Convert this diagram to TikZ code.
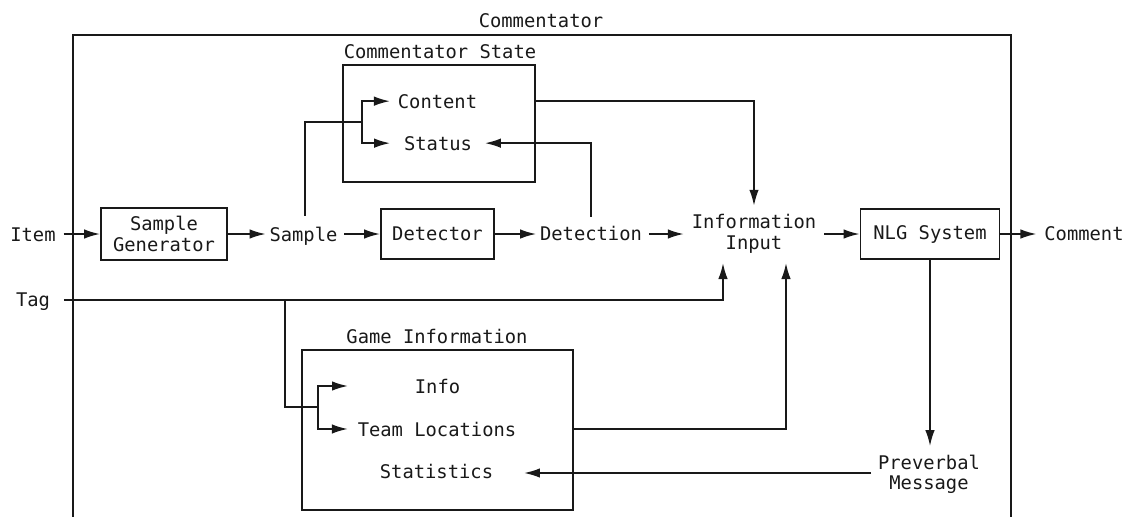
\documentclass[tikz,border=0pt]{standalone}
\usepackage{fontspec}
\setmonofont{DejaVu Sans Mono}
\usetikzlibrary{arrows.meta}
\definecolor{ink}{RGB}{25,25,25}
\begin{document}
\begin{tikzpicture}[x=1pt,y=-1pt,
  every node/.style={font=\ttfamily\fontsize{18.8}{20.5}\selectfont, text=ink},
  line width=1.8pt, draw=ink,
  box/.style={draw=ink, rectangle, inner sep=0pt, align=center, line width=1.8pt},
  txt/.style={inner sep=0pt, anchor=base},
  mtxt/.style={inner sep=0pt, align=center},
  arr/.style={-{Latex[length=16pt,width=9.5pt]}}]
\useasboundingbox (0,0) rectangle (1128,517);

% outer frame
\draw (73,517) -- (73,35) -- (1011,35) -- (1011,517);
\node[txt] (title) at (541,27) {Commentator};

% boxes
\node[box, minimum width=192pt, minimum height=117pt] (cs) at (439,123.5) {};
\node[txt] (cstitle) at (440,58) {Commentator State};
\node[box, minimum width=271pt, minimum height=160pt] (gi) at (437.5,430) {};
\node[txt] (gititle) at (437,343) {Game Information};
\node[box, minimum width=126pt, minimum height=52pt] (sg) at (164,234) {Sample\\Generator};
\node[box, minimum width=113pt, minimum height=50pt] (det) at (437.5,234) {Detector};
\node[box, minimum width=139pt, minimum height=50pt] (nlg) at (930,234) {NLG System};

% texts
\node[txt] (content) at (437.5,108) {Content};
\node[txt] (status) at (438,150) {Status};
\node[txt] (item) at (33,241) {Item};
\node[txt] (sample) at (303.5,241) {Sample};
\node[txt] (detection) at (591,240) {Detection};
\node[mtxt] (infoin) at (754,234) {Information\\Input};
\node[txt] (comment) at (1084,240) {Comment};
\node[txt] (tag) at (33,306) {Tag};
\node[txt] (info) at (437.5,393) {Info};
\node[txt] (team) at (437,436) {Team Locations};
\node[txt] (stats) at (436.5,478) {Statistics};
\node[mtxt] (prev) at (929,474.5) {Preverbal\\Message};

% helper coordinates
\coordinate (csj) at (362,122);
\coordinate (tagin) at (723,263);
\coordinate (teamin) at (786,263);
\coordinate (tagb) at (285,300);
\coordinate (gij) at (318,407);
\coordinate (infotip) at (348,386);

% main row
\draw[arr, shorten <=7pt] (item.east |- sg.west) -- (sg.west);
\draw[arr, shorten >=3pt] (sg.east) -- (sg.east -| sample.west);
\draw[arr, shorten <=6pt] (sample.east |- det.west) -- (det.west);
\draw[arr, shorten >=3pt] (det.east) -- (det.east -| detection.west);
\draw[arr, shorten <=6pt, shorten >=7pt] (detection.east |- det.east) -- (det.east -| infoin.west);
\draw[arr, shorten <=7pt] (infoin.east |- nlg.west) -- (nlg.west);
\draw[arr, shorten >=7pt] (nlg.east) -- (nlg.east -| comment.west);

% commentator state
\draw[shorten <=10pt] (sample.north -| 305,0) |- (csj);
\draw[arr, shorten >=7pt] (csj) |- (content.west);
\draw[arr, shorten >=13pt] (csj) |- (status.west);
\draw[arr, shorten <=8pt, shorten >=12pt] (detection.north) |- (status.east);
\draw[arr, shorten >=8pt] (cs.east |- content.east) -| (infoin.north);

% tag
\draw[arr, shorten <=13pt] (tag.east |- tagb) -| (tagin);
\draw (tagb) |- (gij);
\draw[arr] (gij) |- (infotip);
\draw[arr, shorten >=9pt] (gij) |- (team.west);

% game info
\draw[arr] (gi.east |- team.east) -| (teamin);
\draw[arr, shorten >=8pt] (nlg.south) -- (prev.north -| nlg.south);
\draw[arr, shorten <=6pt, shorten >=30pt] (prev.west |- 0,473) -- (stats.east |- 0,473);
\end{tikzpicture}
\end{document}
